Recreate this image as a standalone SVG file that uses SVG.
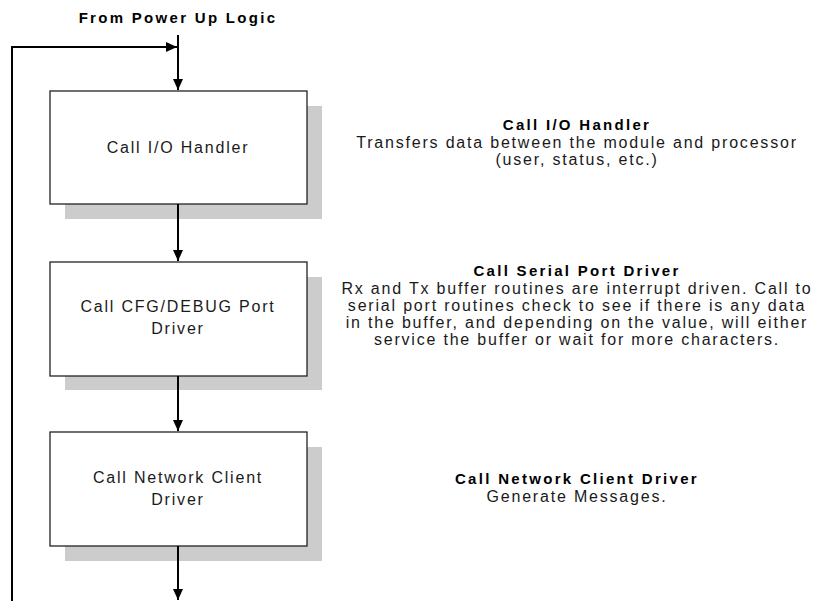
<svg xmlns="http://www.w3.org/2000/svg" width="814" height="601" viewBox="0 0 814 601">
<defs>
<marker id="ah" markerUnits="userSpaceOnUse" markerWidth="12" markerHeight="11" refX="11" refY="5" orient="auto">
<path d="M0,0 L11,5 L0,10 z" fill="#000"/>
</marker>
<style>
.shadow{fill:#cccccc;stroke:none}
.box{fill:#fff;stroke:#222;stroke-width:1.3}
.conn{fill:none;stroke:#000;stroke-width:2}
.t{font-family:"Liberation Sans",Arial,sans-serif;font-size:16px;letter-spacing:1.8px;fill:#1a1a1a;text-anchor:middle}
.b{font-family:"Liberation Sans",Arial,sans-serif;font-size:15px;font-weight:bold;letter-spacing:2.3px;fill:#000;text-anchor:middle}
</style>
</defs>
<rect width="814" height="601" fill="#fff"/>
<text class="b" x="178" y="23">From Power Up Logic</text>

<g id="node-io">
<rect class="shadow" x="65" y="106" width="257" height="113"/>
<rect class="box" x="50" y="91" width="257" height="113"/>
<text class="t" x="178" y="153">Call I/O Handler</text>
</g>

<g id="node-cfg">
<rect class="shadow" x="65" y="277" width="257" height="113"/>
<rect class="box" x="50" y="262" width="257" height="114"/>
<text class="t" x="178" y="312">Call CFG/DEBUG Port</text>
<text class="t" x="178" y="334">Driver</text>
</g>

<g id="node-net">
<rect class="shadow" x="65" y="447" width="257" height="114"/>
<rect class="box" x="50" y="432" width="257" height="114"/>
<text class="t" x="178" y="483">Call Network Client</text>
<text class="t" x="178" y="505">Driver</text>
</g>

<g id="desc-io">
<text class="b" x="577" y="130">Call I/O Handler</text>
<text class="t" x="577" y="148">Transfers data between the module and processor</text>
<text class="t" x="577" y="165">(user, status, etc.)</text>
</g>

<g id="desc-serial">
<text class="b" x="577" y="276">Call Serial Port Driver</text>
<text class="t" x="577" y="294">Rx and Tx buffer routines are interrupt driven. Call to</text>
<text class="t" x="577" y="311">serial port routines check to see if there is any data</text>
<text class="t" x="577" y="328">in the buffer, and depending on the value, will either</text>
<text class="t" x="577" y="345">service the buffer or wait for more characters.</text>
</g>

<g id="desc-net">
<text class="b" x="577" y="484">Call Network Client Driver</text>
<text class="t" x="577" y="502">Generate Messages.</text>
</g>

<g id="connectors">
<line class="conn" x1="178" y1="35" x2="178" y2="90" marker-end="url(#ah)"/>
<line class="conn" x1="178" y1="204" x2="178" y2="261" marker-end="url(#ah)"/>
<line class="conn" x1="178" y1="376" x2="178" y2="431" marker-end="url(#ah)"/>
<line class="conn" x1="178" y1="546" x2="178" y2="600" marker-end="url(#ah)"/>
<polyline class="conn" points="12,601 12,47 177,47" marker-end="url(#ah)"/>
</g>
</svg>
